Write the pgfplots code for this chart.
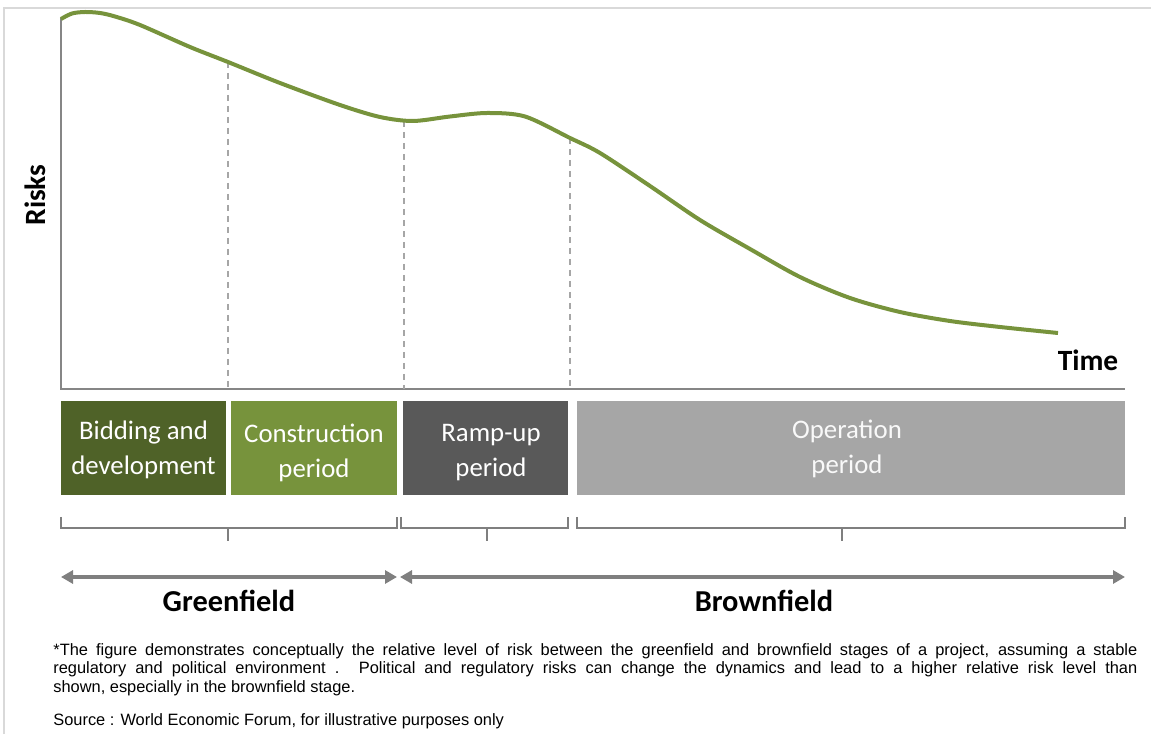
\documentclass[border=0pt]{standalone}
\usepackage{pgfplots}
\pgfplotsset{compat=1.18}
\usepackage{fontspec}
\setmainfont{Carlito}
\newfontfamily\arial{Liberation Sans}
\usetikzlibrary{arrows.meta}
\definecolor{curvegreen}{HTML}{77933C}
\definecolor{darkgreen}{HTML}{4F6228}
\definecolor{darkgray1}{HTML}{595959}
\definecolor{lightgray1}{HTML}{A6A6A6}
\definecolor{axisgray}{HTML}{868686}
\definecolor{brgray}{HTML}{7F7F7F}
\definecolor{framegray}{HTML}{D9D9D9}
\begin{document}
\begin{tikzpicture}
\begin{axis}[
  xmin=0, xmax=1151, ymin=0, ymax=734,
  width=575.5pt, height=367pt, scale only axis,
  axis lines=none, ticks=none, clip=false,
]
% frame
\draw[framegray, line width=1pt] (axis cs:4,0) -- (axis cs:4,726) -- (axis cs:1151,726);
% axes
\draw[axisgray, line width=1pt] (axis cs:61,716) -- (axis cs:61,345) -- (axis cs:1125,345);
% dashed guides
\draw[lightgray1, line width=0.6pt, dash pattern=on 3pt off 2.5pt] (axis cs:228,672) -- (axis cs:228,345);
\draw[lightgray1, line width=0.6pt, dash pattern=on 3pt off 2.5pt] (axis cs:404,613) -- (axis cs:404,345);
\draw[lightgray1, line width=0.6pt, dash pattern=on 3pt off 2.5pt] (axis cs:570,596) -- (axis cs:570,345);
% risk curve
\addplot[curvegreen, line width=2pt, smooth, tension=0.5] coordinates {
(61,715) (72,720.5) (85,722) (100,721) (115,717.5) (140,709) (190,687) (228,672)
(280,651) (340,629) (380,617) (413,613) (450,617.5) (487,621) (525,617.5)
(570,596) (600,581) (650,548) (700,514) (750,485) (800,457) (850,436)
(900,422) (950,413) (1000,407) (1058,401)
};
% labels
\node[font=\bfseries\fontsize{14.7}{16}\selectfont, rotate=90] at (axis cs:35,539) {Risks};
\node[font=\bfseries\fontsize{14.7}{16}\selectfont] at (axis cs:1088,374) {Time};
% boxes
\fill[darkgreen] (axis cs:61,239) rectangle (axis cs:226,333);
\fill[curvegreen] (axis cs:231,239) rectangle (axis cs:397,333);
\fill[darkgray1] (axis cs:403,239) rectangle (axis cs:568,333);
\fill[lightgray1] (axis cs:577,239) rectangle (axis cs:1125,333);
\node[text=white, align=center, font=\fontsize{13.4}{17.5}\selectfont] at (axis cs:143.5,284) {Bidding and\\development};
\node[text=white, align=center, font=\fontsize{13.4}{17.5}\selectfont] at (axis cs:314,281) {Construction\\period};
\node[text=white, align=center, font=\fontsize{13.4}{17.5}\selectfont] at (axis cs:491,281) {Ramp-up\\period};
\node[text=white!95!gray, align=center, font=\fontsize{13.4}{17.5}\selectfont] at (axis cs:847,285) {Operation\\period};
% brackets
\draw[brgray, line width=0.9pt] (axis cs:61,217) -- (axis cs:61,206) -- (axis cs:397,206) -- (axis cs:397,217);
\draw[brgray, line width=0.9pt] (axis cs:228,206) -- (axis cs:228,193);
\draw[brgray, line width=0.9pt] (axis cs:401,217) -- (axis cs:401,206) -- (axis cs:568,206) -- (axis cs:568,217);
\draw[brgray, line width=0.9pt] (axis cs:487,206) -- (axis cs:487,193);
\draw[brgray, line width=0.9pt] (axis cs:577,217) -- (axis cs:577,206) -- (axis cs:1125,206) -- (axis cs:1125,217);
\draw[brgray, line width=0.9pt] (axis cs:842,206) -- (axis cs:842,193);
% arrows
\draw[brgray, line width=2pt, {Triangle[length=6pt,width=6.5pt]}-{Triangle[length=6pt,width=6.5pt]}] (axis cs:61,157) -- (axis cs:397,157);
\draw[brgray, line width=2pt, {Triangle[length=6pt,width=6.5pt]}-{Triangle[length=6pt,width=6.5pt]}] (axis cs:400,157) -- (axis cs:1125,157);
\node[font=\bfseries\fontsize{15.2}{16}\selectfont] at (axis cs:229,133) {Greenfield};
\node[font=\bfseries\fontsize{15.2}{16}\selectfont] at (axis cs:764,133) {Brownfield};
% footnote
\node[anchor=north west, inner sep=0pt, text width=542pt, align=justify, font=\arial\fontsize{8.2}{9.25}\selectfont] at (axis cs:53,91) {*The figure demonstrates conceptually the relative level of risk between the greenfield and brownfield stages of a project, assuming a stable\linebreak regulatory and political environment . Political and regulatory risks can change the dynamics and lead to a higher relative risk level than\linebreak shown, especially in the brownfield stage.};
\node[anchor=west, inner sep=0pt, font=\arial\fontsize{8.2}{9}\selectfont] at (axis cs:53,13) {Source : World Economic Forum, for illustrative purposes only};
\end{axis}
\pgfresetboundingbox
\path (0,0) rectangle (575.5pt,367pt);
\end{tikzpicture}
\end{document}
